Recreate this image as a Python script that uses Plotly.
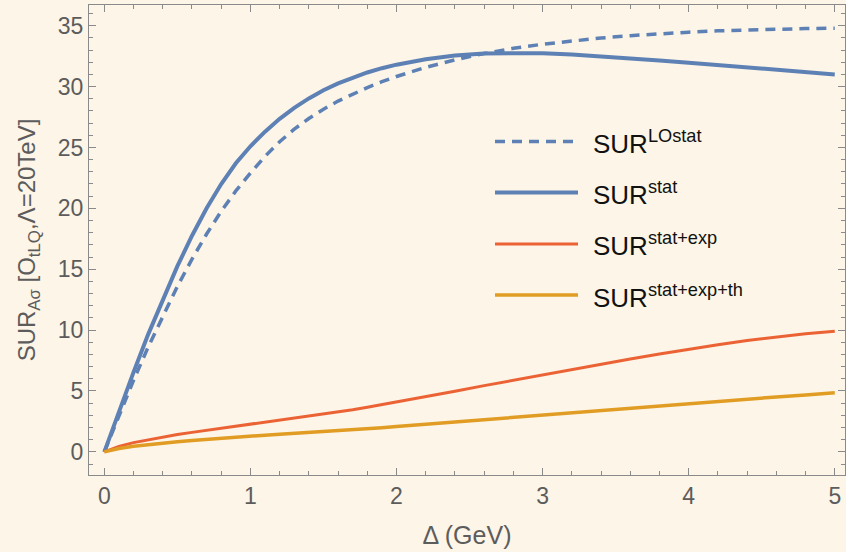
import plotly.graph_objects as go

# Δ grid (GeV): fine steps where the curves bend, coarser beyond 2 GeV
delta = [0.0, 0.1, 0.2, 0.3, 0.4, 0.5, 0.6, 0.7, 0.8, 0.9, 1.0,
         1.1, 1.2, 1.3, 1.4, 1.5, 1.6, 1.7, 1.8, 1.9, 2.0,
         2.2, 2.4, 2.6, 2.8, 3.0, 3.2, 3.4, 3.6, 3.8, 4.0, 4.2, 4.4, 4.6, 4.8, 5.0]

sur_lo_stat = [0.0, 3.0, 5.88, 8.61, 11.18, 13.59, 15.83, 17.89, 19.76, 21.43, 22.9,
               24.27, 25.47, 26.5, 27.38, 28.14, 28.81, 29.4, 29.92, 30.4, 30.83,
               31.58, 32.2, 32.72, 33.14, 33.48, 33.76, 33.99, 34.18, 34.34, 34.47, 34.58, 34.66, 34.72, 34.76, 34.8]
sur_stat = [0.0, 3.3, 6.55, 9.65, 12.55, 15.25, 17.75, 20.0, 22.0, 23.7, 25.1,
            26.3, 27.35, 28.25, 29.03, 29.7, 30.26, 30.74, 31.16, 31.51, 31.8,
            32.25, 32.55, 32.72, 32.77, 32.74, 32.64, 32.5, 32.33, 32.15, 31.96, 31.77, 31.58, 31.39, 31.2, 31.0]
sur_stat_exp = [0.0, 0.45, 0.76, 1.0, 1.22, 1.42, 1.6, 1.77, 1.93, 2.09, 2.25,
                2.41, 2.57, 2.74, 2.91, 3.09, 3.27, 3.46, 3.66, 3.87, 4.08,
                4.53, 4.98, 5.44, 5.89, 6.34, 6.78, 7.21, 7.63, 8.04, 8.43, 8.8, 9.14, 9.45, 9.7, 9.9]
sur_stat_exp_th = [0.0, 0.28, 0.46, 0.6, 0.72, 0.83, 0.94, 1.04, 1.13, 1.22, 1.3,
                   1.37, 1.44, 1.51, 1.58, 1.65, 1.72, 1.8, 1.89, 1.98, 2.08,
                   2.27, 2.47, 2.66, 2.85, 3.05, 3.25, 3.44, 3.63, 3.81, 3.99, 4.17, 4.34, 4.51, 4.68, 4.85]

series_names = ["SUR<sup>LOstat</sup>", "SUR<sup>stat</sup>",
                "SUR<sup>stat+exp</sup>", "SUR<sup>stat+exp+th</sup>"]
series_values = [sur_lo_stat, sur_stat, sur_stat_exp, sur_stat_exp_th]
colors = ["#5E81B5", "#5E81B5", "#EB6235", "#E19C24"]
widths = [3.5, 4, 3, 3.5]
dashes = ["10px,7px", "solid", "solid", "solid"]

x_ticks = [0, 1, 2, 3, 4, 5]
y_ticks = [0, 5, 10, 15, 20, 25, 30, 35]

BG = "#FDF5E7"
FONT = "Liberation Sans, Arial, sans-serif"
GRAY = "#8a8a8a"
LABEL = "#5c5c5c"

fig = go.Figure()
for name, vals, c, w, d in zip(series_names, series_values, colors, widths, dashes):
    fig.add_trace(go.Scatter(x=delta, y=vals, mode="lines", name=name,
                             line=dict(color=c, width=w, dash=d, shape="linear"),
                             showlegend=False))

# hand-placed legend block (paper coordinates)
W, H = 846, 552
L, R, T, B = 89, 1, 5, 77
pw, ph = W - L - R, H - T - B


def px(xp):
    return (xp - L) / pw


def py(yp):
    return 1 - (yp - T) / ph


legend_rows = [141.5, 192.5, 244, 295]
for name, c, w, d, yr in zip(series_names, colors, widths, dashes, legend_rows):
    fig.add_shape(type="line", xref="paper", yref="paper",
                  x0=px(495), x1=px(578), y0=py(yr), y1=py(yr),
                  line=dict(color=c, width=w, dash=d))
    fig.add_annotation(xref="paper", yref="paper", x=px(591), y=py(yr + 1),
                       xanchor="left", yanchor="middle", showarrow=False,
                       text=name, font=dict(family=FONT, size=26, color="#111111"))

axis_common = dict(
    showline=True, linecolor=GRAY, linewidth=1, mirror="allticks",
    ticks="inside", ticklen=7, tickwidth=1, tickcolor=GRAY,
    showgrid=False, zeroline=False,
    tickfont=dict(family=FONT, size=23, color=LABEL),
    minor=dict(ticks="inside", ticklen=4, tickwidth=1, tickcolor=GRAY, showgrid=False),
)

fig.update_xaxes(range=[-0.105, 5.07], tickvals=x_ticks, minor_dtick=0.2,
                 title=dict(text="Δ (GeV)", font=dict(family=FONT, size=25, color=LABEL), standoff=18),
                 **axis_common)
fig.update_yaxes(range=[-1.9, 36.7], tickvals=y_ticks, minor_dtick=1,
                 title=dict(text="SUR<sub>Aσ</sub> [O<sub>tLQ</sub>,Λ=20TeV]",
                            font=dict(family=FONT, size=24, color=LABEL), standoff=15),
                 **axis_common)

fig.update_layout(
    width=W, height=H,
    margin=dict(l=L, r=R, t=T, b=B),
    paper_bgcolor=BG, plot_bgcolor=BG,
    showlegend=False,
)

fig.write_html("out.html")
